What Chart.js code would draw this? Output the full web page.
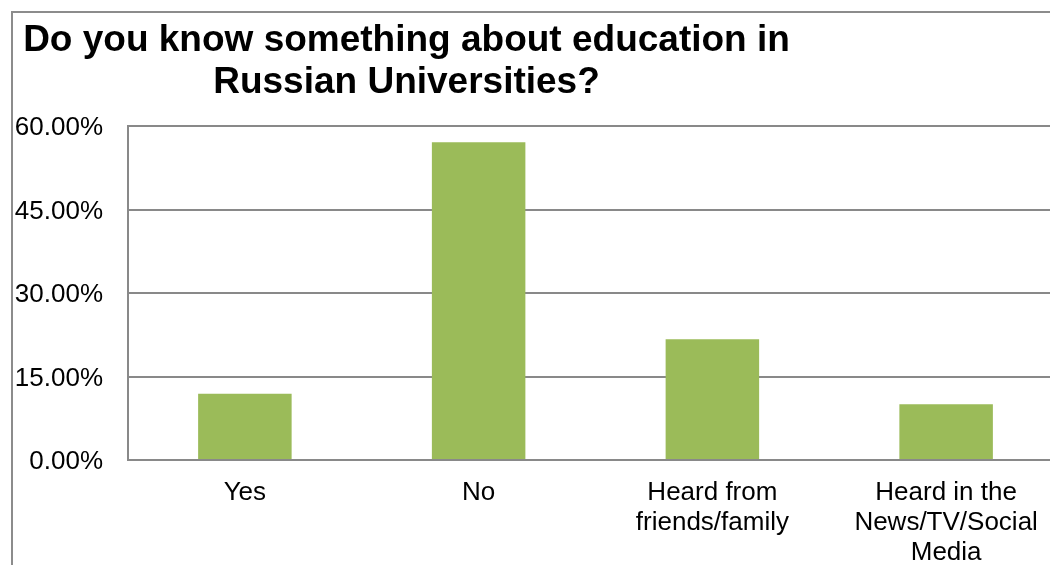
<!DOCTYPE html>
<html>
<head>
<meta charset="utf-8">
<script src="https://cdn.jsdelivr.net/npm/chart.js@4"></script>
<style>
    body { margin: 0; background: #fff; overflow: hidden; }
    #wrap { position: relative; width: 1050px; height: 565px; overflow: hidden; }
    #frame {
        position: absolute; left: 11px; top: 11px; width: 1100px; height: 600px;
        border-left: 2px solid #8c8c8c; border-top: 2px solid #8c8c8c;
    }
    #title {
        position: absolute; left: 21px; top: 18px; width: 771px;
        text-align: center; font: bold 37px 'Liberation Sans', Arial, sans-serif;
        line-height: 42px; color: #000; white-space: nowrap;
    }
    #box { position: absolute; left: 0; top: 0; width: 1070px; height: 580px; }
</style>
</head>
<body>
<div id="wrap">
    <div id="frame"></div>
    <div id="box"><canvas id="eduChart"></canvas></div>
    <div id="title">Do you know something about education in<br>Russian Universities?</div>
</div>
<script>
// Datos de la encuesta
const categorias = [
    ['Yes'],
    ['No'],
    ['Heard from', 'friends/family'],
    ['Heard in the', 'News/TV/Social', 'Media']
];
const porcentajes = [11.9, 57.1, 21.7, 10.0];
const ticksY = [0, 15, 30, 45, 60];

const fuente = "'Liberation Sans', Arial, sans-serif";
const gris = '#898989';

const ctx = document.getElementById('eduChart').getContext('2d');
const eduChart = new Chart(ctx, {
    type: 'bar',
    data: {
        labels: categorias,
        datasets: [{
            label: 'Respuestas',
            data: porcentajes,
            backgroundColor: '#9bbb59',
            borderWidth: 0,
            categoryPercentage: 0.4,
            barPercentage: 1
        }]
    },
    options: {
        responsive: true,
        maintainAspectRatio: false,
        animation: false,
        layout: {
            padding: { top: 126, right: 7, bottom: 14, left: 0 }
        },
        plugins: {
            legend: { display: false },
            title: { display: false },
            tooltip: { enabled: false }
        },
        scales: {
            y: {
                min: 0,
                max: 60,
                afterBuildTicks: function(scale) {
                    scale.ticks = ticksY.map(v => ({ value: v }));
                },
                afterFit: function(scale) {
                    scale.width = 128;
                },
                grid: {
                    color: gris,
                    lineWidth: 2,
                    drawTicks: false
                },
                border: { display: true, color: gris, width: 2 },
                ticks: {
                    padding: 25,
                    labelOffset: 2,
                    color: '#000',
                    font: { family: fuente, size: 26 },
                    callback: function(value) {
                        return value.toFixed(2) + '%';
                    }
                }
            },
            x: {
                afterFit: function(scale) {
                    scale.height = 106;
                },
                grid: { display: false, drawTicks: false },
                border: { display: false },
                ticks: {
                    padding: 18,
                    color: '#000',
                    maxRotation: 0,
                    autoSkip: false,
                    font: { family: fuente, size: 26, lineHeight: 1.15 }
                }
            }
        }
    }
});
</script>
</body>
</html>
